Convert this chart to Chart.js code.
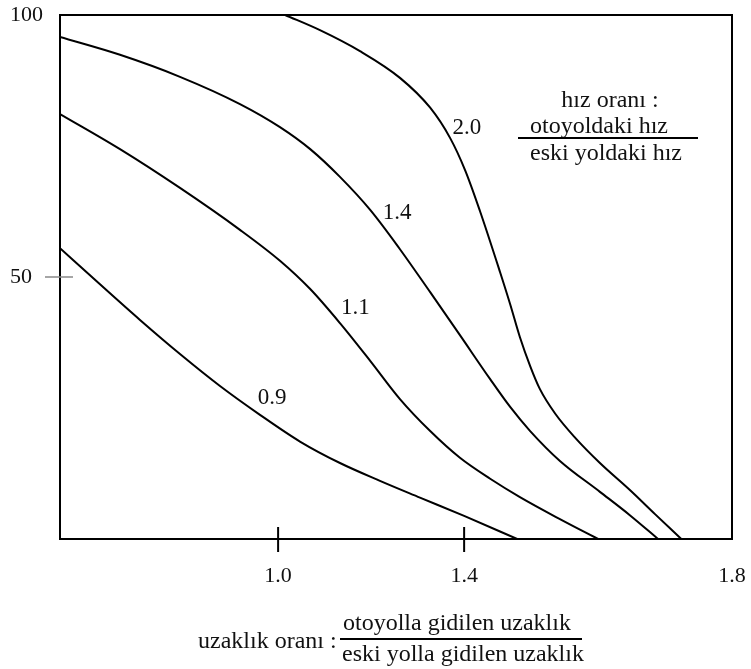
<!DOCTYPE html>
<html>
<head>
<meta charset="utf-8">
<script src="https://cdn.jsdelivr.net/npm/chart.js@4"></script>
<style>
    body { margin: 0; background: #fff; }
</style>
</head>
<body>
<canvas id="ratioChart" width="751" height="669"></canvas>
<script>
// Speed ratio curves (x: distance ratio, y: percentage)
const speedRatios = ['0.9', '1.1', '1.4', '2.0'];

const curve09X = [0.531, 0.617, 0.703, 0.789, 0.875, 0.961, 1.047, 1.133, 1.219, 1.305, 1.400, 1.514];
const curve09Y = [55.5, 48.6, 41.8, 35.3, 29.2, 23.7, 18.6, 14.5, 11.1, 7.9, 4.4, 0];

const curve11X = [0.531, 0.660, 0.789, 0.918, 1.004, 1.069, 1.133, 1.198, 1.262, 1.327, 1.391, 1.456, 1.520, 1.606, 1.688];
const curve11Y = [81.1, 74.4, 67.0, 59.0, 53.1, 47.7, 41.2, 34.0, 26.7, 20.6, 15.5, 11.5, 8.0, 3.8, 0];

const curve14X = [0.531, 0.660, 0.789, 0.918, 1.004, 1.069, 1.133, 1.198, 1.262, 1.327, 1.391, 1.456, 1.499, 1.542, 1.606, 1.692, 1.757, 1.817];
const curve14Y = [95.8, 92.4, 88.2, 83.0, 78.6, 74.4, 69.1, 62.8, 55.3, 47.1, 38.9, 30.5, 25.2, 20.6, 14.9, 9.0, 4.5, 0];

const curve20X = [1.015, 1.090, 1.176, 1.262, 1.327, 1.370, 1.402, 1.434, 1.477, 1.499, 1.520, 1.542, 1.563, 1.596, 1.639, 1.692, 1.757, 1.811, 1.867];
const curve20Y = [100, 97.1, 93.1, 88.0, 82.3, 76.5, 70.4, 62.6, 51.0, 44.8, 38.5, 33.0, 28.6, 23.9, 19.3, 14.5, 9.3, 4.7, 0];

// where each ratio label sits next to its curve
const labelX = [0.987, 1.166, 1.256, 1.406];
const labelY = [26.9, 44.1, 62.2, 78.4];

const X_MIN = 0.531;
const X_MAX = 1.976;
const xTickValues = [1.0, 1.4, X_MAX];
const xTickLabels = ['1.0', '1.4', '1.8'];
const xTickMarks = [1.0, 1.4];
const yTickValues = [50, 100];
const yTickMarks = [50];

const SERIF = '"Liberation Serif", "DejaVu Serif", serif';
const INK = '#111';

function toPoints(xs, ys) {
    return xs.map((x, i) => ({ x: x, y: ys[i] }));
}

const curves = [curve09X, curve11X, curve14X, curve20X];
const curveValues = [curve09Y, curve11Y, curve14Y, curve20Y];

// Frame, tick marks, curve labels and the two ratio captions
const annotations = {
    id: 'annotations',
    afterDatasetsDraw(chart) {
        const ctx = chart.ctx;
        const area = chart.chartArea;
        const xs = chart.scales.x;
        const ys = chart.scales.y;

        ctx.save();
        ctx.strokeStyle = '#000';
        ctx.lineWidth = 2;
        ctx.strokeRect(area.left, area.top, area.right - area.left, area.bottom - area.top);

        // x tick marks cross the bottom edge
        xTickMarks.forEach(v => {
            const px = xs.getPixelForValue(v);
            ctx.beginPath();
            ctx.moveTo(px, area.bottom - 12);
            ctx.lineTo(px, area.bottom + 13);
            ctx.stroke();
        });

        // grey y tick mark
        ctx.strokeStyle = '#888';
        ctx.lineWidth = 1.5;
        yTickMarks.forEach(v => {
            const py = ys.getPixelForValue(v);
            ctx.beginPath();
            ctx.moveTo(area.left - 15, py);
            ctx.lineTo(area.left + 13, py);
            ctx.stroke();
        });

        ctx.fillStyle = INK;
        ctx.font = '23px ' + SERIF;
        ctx.textAlign = 'center';
        ctx.textBaseline = 'middle';
        speedRatios.forEach((label, i) => {
            ctx.fillText(label, xs.getPixelForValue(labelX[i]), ys.getPixelForValue(labelY[i]));
        });

        // speed ratio caption
        ctx.font = '24px ' + SERIF;
        ctx.textBaseline = 'alphabetic';
        ctx.fillText('hız oranı :', 610, 107);
        ctx.textAlign = 'left';
        ctx.fillText('otoyoldaki hız', 530, 133);
        ctx.fillText('eski yoldaki hız', 530, 160);
        ctx.strokeStyle = '#000';
        ctx.lineWidth = 2;
        ctx.beginPath();
        ctx.moveTo(518, 138);
        ctx.lineTo(698, 138);
        ctx.stroke();

        // distance ratio caption under the axis
        ctx.fillText('uzaklık oranı :', 198, 648);
        ctx.fillText('otoyolla gidilen uzaklık', 343, 630);
        ctx.fillText('eski yolla gidilen uzaklık', 342, 661);
        ctx.beginPath();
        ctx.moveTo(340, 639);
        ctx.lineTo(582, 639);
        ctx.stroke();

        ctx.restore();
    }
};

const ctx = document.getElementById('ratioChart').getContext('2d');
const ratioChart = new Chart(ctx, {
    type: 'line',
    data: {
        datasets: speedRatios.map((label, i) => ({
            label: label,
            data: toPoints(curves[i], curveValues[i]),
            borderColor: '#000',
            borderWidth: 2,
            pointRadius: 0,
            fill: false,
            cubicInterpolationMode: 'monotone'
        }))
    },
    options: {
        responsive: false,
        animation: false,
        layout: {
            padding: { top: 15, right: 19, left: 10, bottom: 0 }
        },
        plugins: {
            legend: { display: false },
            tooltip: { enabled: false }
        },
        scales: {
            x: {
                type: 'linear',
                min: X_MIN,
                max: X_MAX,
                grid: { display: false },
                border: { display: false },
                afterBuildTicks: function(scale) {
                    scale.ticks = xTickValues.map(v => ({ value: v }));
                },
                afterFit: function(scale) {
                    scale.height = 130;
                    scale.paddingLeft = 0;
                    scale.paddingRight = 0;
                },
                ticks: {
                    autoSkip: false,
                    maxRotation: 0,
                    padding: 16,
                    color: INK,
                    font: { family: SERIF, size: 22 },
                    callback: function(value, index) {
                        return xTickLabels[index];
                    }
                }
            },
            y: {
                min: 0,
                max: 100,
                grid: { display: false },
                border: { display: false },
                afterBuildTicks: function(scale) {
                    scale.ticks = yTickValues.map(v => ({ value: v }));
                },
                afterFit: function(scale) {
                    scale.width = 50;
                    scale.paddingTop = 0;
                    scale.paddingBottom = 0;
                },
                ticks: {
                    crossAlign: 'far',
                    padding: 16,
                    color: INK,
                    font: { family: SERIF, size: 22 },
                    callback: function(value) {
                        return String(value);
                    }
                }
            }
        }
    },
    plugins: [annotations]
});
</script>
</body>
</html>
